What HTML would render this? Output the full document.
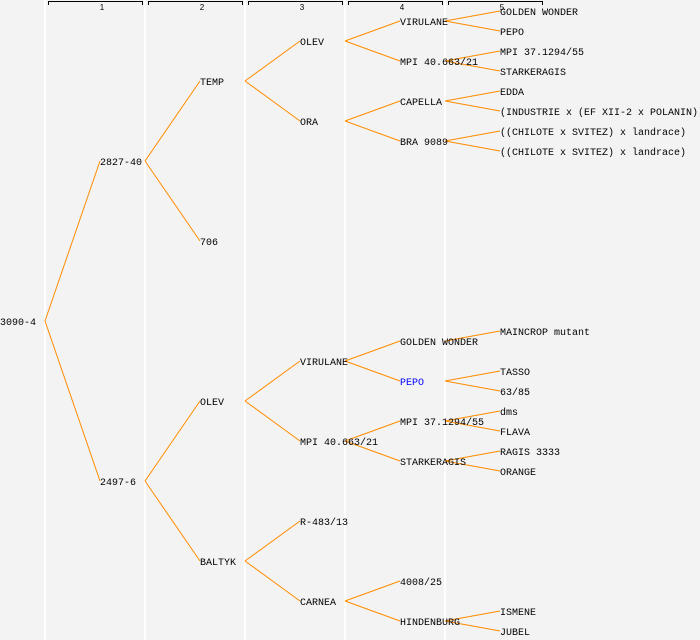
<!DOCTYPE html>
<html><head><meta charset="utf-8"><style>
html,body{margin:0;padding:0;background:#f3f3f3;}
svg{display:block}
text{font-family:"Liberation Mono",monospace;font-size:10px;fill:#000}
.h{font-size:8px;font-family:"Liberation Sans",sans-serif}
</style></head><body>
<svg width="700" height="640" viewBox="0 0 700 640" xmlns="http://www.w3.org/2000/svg">
<rect width="700" height="640" fill="#f3f3f3"/>
<g fill="#ffffff">
<rect x="44" y="0" width="2" height="640"/>
<rect x="144" y="0" width="2" height="640"/>
<rect x="244" y="0" width="2" height="640"/>
<rect x="344" y="0" width="2" height="640"/>
<rect x="444" y="0" width="2" height="640"/>
</g>
<g stroke="#000" stroke-width="1" fill="none">
<path d="M48.5 5V1.5H142.5V5"/>
<path d="M148.5 5V1.5H242.5V5"/>
<path d="M248.5 5V1.5H342.5V5"/>
<path d="M348.5 5V1.5H442.5V5"/>
<path d="M448.5 5V1.5H542.5V5"/>
</g>
<g class="h" text-anchor="middle">
<text class="h" x="102" y="10">1</text>
<text class="h" x="202" y="10">2</text>
<text class="h" x="302" y="10">3</text>
<text class="h" x="402" y="10">4</text>
<text class="h" x="502" y="10">5</text>
</g>
<g stroke="#ff8c00" stroke-width="1" fill="none">
<path d="M45 321L100 161M45 321L100 481"/>
<path d="M145 161L200 81M145 161L200 241"/>
<path d="M245 81L300 41M245 81L300 121"/>
<path d="M345 41L400 21M345 41L400 61"/>
<path d="M345 121L400 101M345 121L400 141"/>
<path d="M445 21L500 11M445 21L500 31"/>
<path d="M445 61L500 51M445 61L500 71"/>
<path d="M445 101L500 91M445 101L500 111"/>
<path d="M445 141L500 131M445 141L500 151"/>
<path d="M145 481L200 401M145 481L200 561"/>
<path d="M245 401L300 361M245 401L300 441"/>
<path d="M245 561L300 521M245 561L300 601"/>
<path d="M345 361L400 341M345 361L400 381"/>
<path d="M345 441L400 421M345 441L400 461"/>
<path d="M345 601L400 581M345 601L400 621"/>
<path d="M445 341L500 331"/>
<path d="M445 381L500 371M445 381L500 391"/>
<path d="M445 421L500 411M445 421L500 431"/>
<path d="M445 461L500 451M445 461L500 471"/>
<path d="M445 621L500 611M445 621L500 631"/>
</g>
<g>
<text x="0" y="325">3090-4</text>
<text x="100" y="165">2827-40</text>
<text x="100" y="485">2497-6</text>
<text x="200" y="85">TEMP</text>
<text x="200" y="245">706</text>
<text x="200" y="405">OLEV</text>
<text x="200" y="565">BALTYK</text>
<text x="300" y="45">OLEV</text>
<text x="300" y="125">ORA</text>
<text x="300" y="365">VIRULANE</text>
<text x="300" y="445">MPI 40.663/21</text>
<text x="300" y="525">R-483/13</text>
<text x="300" y="605">CARNEA</text>
<text x="400" y="25">VIRULANE</text>
<text x="400" y="65">MPI 40.663/21</text>
<text x="400" y="105">CAPELLA</text>
<text x="400" y="145">BRA 9089</text>
<text x="400" y="345">GOLDEN WONDER</text>
<text x="400" y="385" style="fill:#0000ff">PEPO</text>
<text x="400" y="425">MPI 37.1294/55</text>
<text x="400" y="465">STARKERAGIS</text>
<text x="400" y="585">4008/25</text>
<text x="400" y="625">HINDENBURG</text>
<text x="500" y="15">GOLDEN WONDER</text>
<text x="500" y="35">PEPO</text>
<text x="500" y="55">MPI 37.1294/55</text>
<text x="500" y="75">STARKERAGIS</text>
<text x="500" y="95">EDDA</text>
<text x="500" y="115">(INDUSTRIE x (EF XII-2 x POLANIN))</text>
<text x="500" y="135">((CHILOTE x SVITEZ) x landrace)</text>
<text x="500" y="155">((CHILOTE x SVITEZ) x landrace)</text>
<text x="500" y="335">MAINCROP mutant</text>
<text x="500" y="375">TASSO</text>
<text x="500" y="395">63/85</text>
<text x="500" y="415">dms</text>
<text x="500" y="435">FLAVA</text>
<text x="500" y="455">RAGIS 3333</text>
<text x="500" y="475">ORANGE</text>
<text x="500" y="615">ISMENE</text>
<text x="500" y="635">JUBEL</text>
</g>
</svg>
</body></html>
